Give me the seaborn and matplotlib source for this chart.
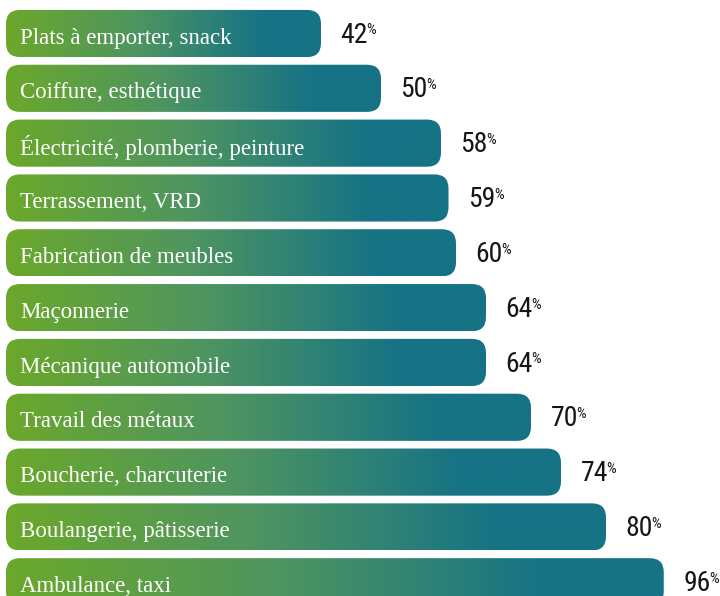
import numpy as np
import pandas as pd
import matplotlib
matplotlib.use("Agg")
import matplotlib.pyplot as plt
import seaborn as sns
from matplotlib import font_manager
from matplotlib.patches import FancyBboxPatch
from matplotlib.colors import LinearSegmentedColormap

# ---- data ----
categories = [
    "Plats à emporter, snack",
    "Coiffure, esthétique",
    "Électricité, plomberie, peinture",
    "Terrassement, VRD",
    "Fabrication de meubles",
    "Maçonnerie",
    "Mécanique automobile",
    "Travail des métaux",
    "Boucherie, charcuterie",
    "Boulangerie, pâtisserie",
    "Ambulance, taxi",
]
values = [42, 50, 58, 59, 60, 64, 64, 70, 74, 80, 96]
value_labels = [str(v) for v in values]

# the longest bar is visually truncated in the source so that it fits
BAR_CAP = 87.7

GREEN = "#6ba82a"
MID = "#4f9560"
TEAL = "#167385"

sns.set_theme(style="white")


def first_font(cands):
    for c in cands:
        try:
            font_manager.findfont(font_manager.FontProperties(family=c),
                                  fallback_to_default=False)
            return c
        except Exception:
            continue
    return "DejaVu Sans"


num_family = first_font(["Liberation Sans Narrow", "Roboto Condensed",
                         "DejaVu Sans Condensed", "Open Sans Condensed", "Roboto"])
narrow = num_family != "Roboto"
num_size = 20 if narrow else 17
pct_size = 11 if narrow else 9

fig = plt.figure(figsize=(7.2, 5.96), dpi=100)
ax = fig.add_axes([0, 0, 1, 1])

df = pd.DataFrame({"cat": categories, "val": values})
df["shown"] = df["val"].clip(upper=BAR_CAP)

sns.barplot(data=df, x="shown", y="cat", orient="h", width=0.86,
            color=TEAL, ax=ax)

XLIM = (-0.8, 95.2)
YLIM = (10.26, -0.611)
ax.set_xlim(*XLIM)
ax.set_ylim(*YLIM)
ax.axis("off")

W, H = 720, 596
px_x = W / (XLIM[1] - XLIM[0])
px_y = H / (YLIM[0] - YLIM[1])
radius_px = 14
r_x = radius_px / px_x
aspect = px_x / px_y

cmap = LinearSegmentedColormap.from_list("g", [GREEN, MID, TEAL])
grad = np.clip(np.linspace(0, 1, 600) / 0.82, 0, 1)[None, :]

for bar in list(ax.patches):
    x0, y0 = bar.get_x(), bar.get_y()
    w, h = bar.get_width(), bar.get_height()
    bar.set_visible(False)
    rp = FancyBboxPatch((x0, y0), w, h,
                        boxstyle=f"round,pad=0,rounding_size={r_x}",
                        mutation_aspect=aspect, transform=ax.transData,
                        facecolor="none", edgecolor="none")
    ax.add_patch(rp)
    im = ax.imshow(grad, cmap=cmap, vmin=0, vmax=1, aspect="auto",
                   extent=(x0, x0 + w, y0 + h, y0), interpolation="bilinear",
                   zorder=2)
    im.set_clip_path(rp)

label_font = ["Liberation Serif", "DejaVu Serif"]

for i, (cat, shown, lab) in enumerate(zip(categories, df["shown"], value_labels)):
    ax.annotate(cat, xy=(0, i), xytext=(10, -1.5), textcoords="offset points",
                ha="left", va="center_baseline", color="white", fontsize=16.5,
                family=label_font, zorder=5)
    t = ax.annotate(lab, xy=(shown, i), xytext=(14, 1), textcoords="offset points",
                    ha="left", va="center_baseline", color="#161616",
                    fontsize=num_size, family=num_family, zorder=5)
    ax.annotate("%", xy=(1.0, 0.93), xycoords=t, xytext=(-1, 0),
                textcoords="offset points", ha="left", va="top",
                color="#161616", fontsize=pct_size, family=num_family, zorder=5)

ax.set_xlim(*XLIM)
ax.set_ylim(*YLIM)
fig.savefig("out.png", dpi=100, facecolor="white")
